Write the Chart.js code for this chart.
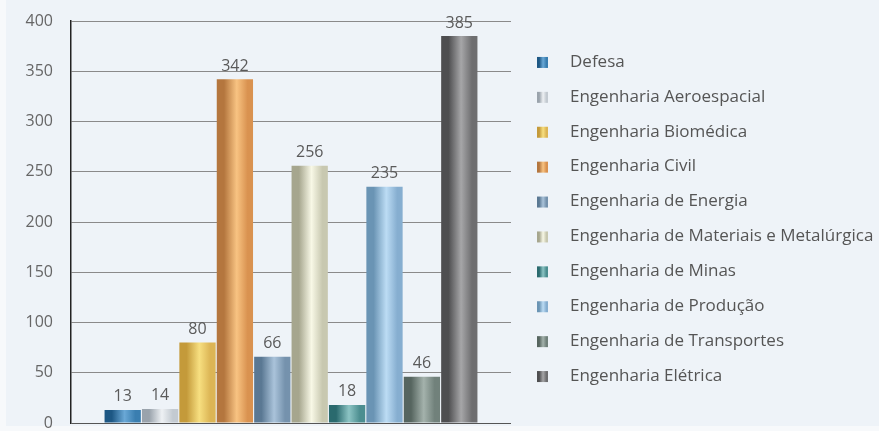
<!DOCTYPE html>
<html>
<head>
<meta charset="utf-8">
<script src="https://cdn.jsdelivr.net/npm/chart.js@4/dist/chart.umd.min.js"></script>
<style>
  html, body { margin: 0; padding: 0; background: #f7f9fb; }
  #wrap { position: absolute; left: 6px; top: 0; width: 873px; height: 431px; }
</style>
</head>
<body>
<div id="wrap"><canvas id="chart"></canvas></div>
<script>
const categories = [""];

const seriesNames = [
  "Defesa",
  "Engenharia Aeroespacial",
  "Engenharia Biomédica",
  "Engenharia Civil",
  "Engenharia de Energia",
  "Engenharia de Materiais e Metalúrgica",
  "Engenharia de Minas",
  "Engenharia de Produção",
  "Engenharia de Transportes",
  "Engenharia Elétrica",
];

const seriesValues = [13, 14, 80, 342, 66, 256, 18, 235, 46, 385];

const yTickMin = 0;
const yTickMax = 400;
const yTickStep = 50;

// dark edge, light highlight, mid tone (cylinder look)
const barShades = [
  ["#1d5784", "#6aa8d6", "#3a7eb0"],
  ["#9aa3ac", "#eef1f4", "#c3cad1"],
  ["#c49a3a", "#f7df80", "#dcb555"],
  ["#b4763e", "#f8c382", "#d99250"],
  ["#5a7893", "#aac3da", "#7592ad"],
  ["#a6a68e", "#f8f8e6", "#c8c8b0"],
  ["#2a6a6e", "#8cc4c4", "#4c8e90"],
  ["#6a94b4", "#bcdcf4", "#86aed0"],
  ["#56655f", "#a4b2ac", "#71817b"],
  ["#4e4e50", "#a6a6a8", "#6e6e70"],
];

const FONT = "'Open Sans', sans-serif";

const makeGradient = (ctx, x0, x1, shades) => {
  const g = ctx.createLinearGradient(x0, 0, x1, 0);
  g.addColorStop(0, shades[0]);
  g.addColorStop(0.2, shades[0]);
  g.addColorStop(0.55, shades[1]);
  g.addColorStop(0.85, shades[2]);
  g.addColorStop(1, shades[2]);
  return g;
};

const backgroundPlugin = {
  id: "bg",
  beforeDraw(chart) {
    const { ctx, width, height } = chart;
    ctx.save();
    ctx.fillStyle = "#f7f9fb";
    ctx.fillRect(0, 0, width, height);
    ctx.fillStyle = "#eef3f8";
    ctx.fillRect(0, 0, width, 426);
    ctx.restore();
  },
};

const shadePlugin = {
  id: "shade",
  beforeDatasetsDraw(chart) {
    const ctx = chart.ctx;
    chart.data.datasets.forEach((ds, i) => {
      const meta = chart.getDatasetMeta(i);
      meta.data.forEach((el) => {
        const { x, width } = el.getProps(["x", "width"], true);
        const g = makeGradient(ctx, x - width / 2, x + width / 2, barShades[i]);
        el.options = Object.assign({}, el.options, { backgroundColor: g });
      });
    });
  },
};

const valueLabelPlugin = {
  id: "valueLabels",
  afterDatasetsDraw(chart) {
    const ctx = chart.ctx;
    ctx.save();
    ctx.font = "16px " + FONT;
    ctx.fillStyle = "#5a5a5a";
    ctx.textAlign = "center";
    ctx.textBaseline = "bottom";
    chart.data.datasets.forEach((ds, i) => {
      const meta = chart.getDatasetMeta(i);
      meta.data.forEach((el, j) => {
        ctx.fillText(String(ds.data[j]), el.x, el.y - 5);
      });
    });
    ctx.restore();
  },
};

const legendPlugin = {
  id: "sideLegend",
  afterDraw(chart) {
    const { ctx, chartArea } = chart;
    const rowGap = 34.9;
    const mid = (chartArea.top + chartArea.bottom) / 2 - 3;
    const boxX = chartArea.right + 26;
    const textX = chartArea.right + 59;
    ctx.save();
    ctx.font = "17px " + FONT;
    ctx.textBaseline = "middle";
    ctx.textAlign = "left";
    chart.data.datasets.forEach((ds, i) => {
      const y = mid + (i - (chart.data.datasets.length - 1) / 2) * rowGap;
      ctx.fillStyle = makeGradient(ctx, boxX, boxX + 11, barShades[i]);
      ctx.fillRect(boxX, y - 5, 11, 11);
      ctx.fillStyle = "#555";
      ctx.fillText(ds.label, textX, y);
    });
    ctx.restore();
  },
};

const datasets = seriesNames.map((name, i) => ({
  label: name,
  data: [seriesValues[i]],
  backgroundColor: () => barShades[i][2],
  borderWidth: 0,
  categoryPercentage: 0.85,
  barPercentage: 0.97,
}));

new Chart(document.getElementById("chart"), {
  type: "bar",
  data: { labels: categories, datasets },
  options: {
    responsive: true,
    maintainAspectRatio: false,
    animation: false,
    layout: { padding: { top: 21, bottom: 8, left: 0, right: 368 } },
    plugins: {
      legend: { display: false },
      tooltip: { enabled: false },
    },
    scales: {
      x: { display: false },
      y: {
        min: yTickMin,
        max: yTickMax,
        afterFit(scale) {
          scale.width = 65;
        },
        ticks: {
          stepSize: yTickStep,
          color: "#666",
          padding: 2,
          font: { family: FONT, size: 16, lineHeight: 0.75 },
        },
        grid: {
          drawTicks: true,
          tickLength: 16,
          tickColor: "rgba(0,0,0,0)",
          color: (c) => (c.tick && c.tick.value === 0 ? "#555" : "#8a8a8a"),
          lineWidth: 1,
        },
        border: { color: "#222", width: 1.5 },
      },
    },
  },
  plugins: [backgroundPlugin, shadePlugin, valueLabelPlugin, legendPlugin],
});
</script>
</body>
</html>
